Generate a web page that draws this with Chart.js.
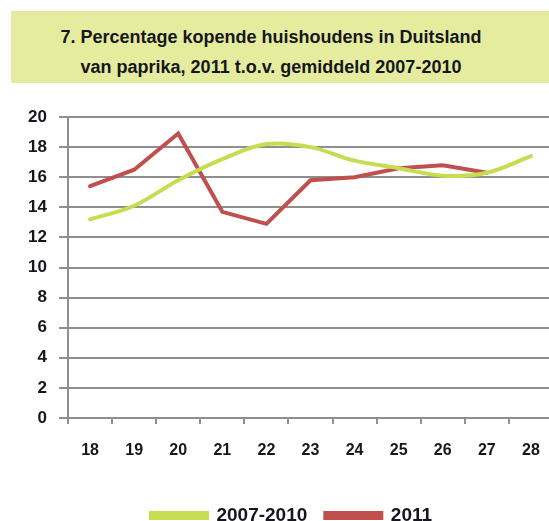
<!DOCTYPE html>
<html lang="nl">
<head>
    <meta charset="UTF-8">
    <title>Percentage kopende huishoudens in Duitsland van paprika</title>
    <script src="https://cdn.jsdelivr.net/npm/chart.js"></script>
    <style>
        body {
            margin: 0;
            padding: 0;
            width: 549px;
            height: 521px;
            overflow: hidden;
            background: #ffffff;
            position: relative;
            font-family: "Liberation Sans", Arial, sans-serif;
        }

        .title-box {
            position: absolute;
            left: 11px;
            top: 11px;
            width: 538px;
            height: 72px;
            background-color: #e5ec9d;
            color: #16161e;
            font-weight: bold;
            font-size: 18px;
            line-height: 30px;
            text-align: center;
            padding-top: 11px;
            padding-right: 18px;
            box-sizing: border-box;
            z-index: 2;
        }

        /* canvas iets breder dan het venster: de rasterlijnen lopen door tot de rand */
        .chart-wrap {
            position: absolute;
            left: 0;
            top: 0;
            width: 553px;
            height: 521px;
        }
    </style>
</head>
<body>
    <div class="title-box">
        7. Percentage kopende huishoudens in Duitsland<br>
        van paprika, 2011 t.o.v. gemiddeld 2007-2010
    </div>

    <div class="chart-wrap">
        <canvas id="paprikaChart" width="553" height="521"></canvas>
    </div>

    <script>
        // weeknummers
        const weeks = ['18', '19', '20', '21', '22', '23', '24', '25', '26', '27', '28'];

        // gemiddeld 2007-2010
        const avg20072010 = [13.2, 14.1, 15.8, 17.2, 18.2, 18.0, 17.1, 16.6, 16.1, 16.3, 17.4];

        // 2011 (geen waarde voor week 28)
        const year2011 = [15.4, 16.5, 18.9, 13.7, 12.9, 15.8, 16.0, 16.6, 16.8, 16.3, null];

        const seriesNames = ['2007-2010', '2011'];
        const yTicks = [0, 2, 4, 6, 8, 10, 12, 14, 16, 18, 20];

        const gridColor = '#8f8f8f';
        const textColor = '#16161e';

        const ctx = document.getElementById('paprikaChart').getContext('2d');
        new Chart(ctx, {
            type: 'line',
            data: {
                labels: weeks,
                datasets: [{
                    label: seriesNames[0],
                    data: avg20072010,
                    borderColor: '#c8dc52',
                    backgroundColor: '#c8dc52',
                    borderWidth: 4,
                    pointRadius: 0,
                    tension: 0.35,
                    borderCapStyle: 'round'
                }, {
                    label: seriesNames[1],
                    data: year2011,
                    borderColor: '#c0504d',
                    backgroundColor: '#c0504d',
                    borderWidth: 4,
                    pointRadius: 0,
                    tension: 0,
                    borderCapStyle: 'round'
                }]
            },
            options: {
                responsive: false,
                animation: false,
                layout: {
                    padding: { top: 117, left: 0, right: -30, bottom: -14 }
                },
                scales: {
                    x: {
                        offset: true,
                        grid: {
                            offset: true,
                            drawOnChartArea: false,
                            color: gridColor,
                            lineWidth: 2,
                            tickLength: 6
                        },
                        border: { color: gridColor, width: 2 },
                        ticks: {
                            color: textColor,
                            padding: 17,
                            maxRotation: 0,
                            font: { family: 'Liberation Sans', size: 16, weight: 'bold' }
                        },
                        afterFit: scale => {
                            scale.height = 70;
                            scale.paddingLeft = 0;
                            scale.paddingRight = 0;
                        }
                    },
                    y: {
                        min: 0,
                        max: 20,
                        afterBuildTicks: scale => {
                            scale.ticks = yTicks.map(v => ({ value: v }));
                        },
                        grid: {
                            color: gridColor,
                            lineWidth: 2,
                            tickLength: 9
                        },
                        border: { color: gridColor, width: 2 },
                        ticks: {
                            color: textColor,
                            padding: 12,
                            font: { family: 'Liberation Sans', size: 17, weight: 'bold' }
                        },
                        afterFit: scale => { scale.width = 68; }
                    }
                },
                plugins: {
                    legend: {
                        position: 'bottom',
                        labels: {
                            boxWidth: 56,
                            boxHeight: 5,
                            padding: 18,
                            color: textColor,
                            font: { family: 'Liberation Sans', size: 19, weight: 'bold' }
                        }
                    },
                    tooltip: { enabled: false }
                }
            }
        });
    </script>
</body>
</html>
